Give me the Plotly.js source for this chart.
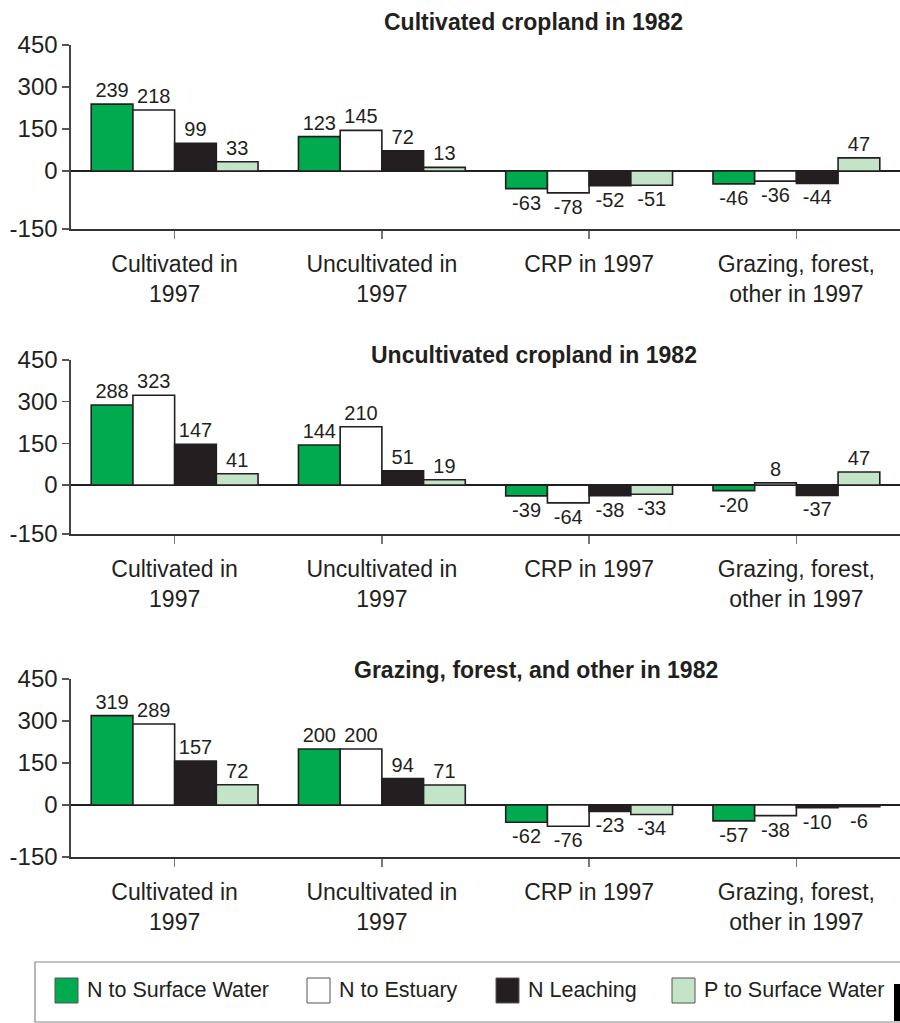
<!DOCTYPE html>
<html>
<head>
<meta charset="utf-8">
<script src="https://cdn.plot.ly/plotly-3.0.1.min.js"></script>
<style>html,body{margin:0;padding:0;background:#fff;}#chart{width:900px;height:1023px;}</style>
</head>
<body>
<div id="chart"></div>
<script>
// ---- data ----
const categories = ['Cultivated in<br>1997', 'Uncultivated in<br>1997', 'CRP in 1997', 'Grazing, forest,<br>other in 1997'];
const seriesNames = ['N to Surface Water', 'N to Estuary', 'N Leaching', 'P to Surface Water'];
const panelTitles = ['Cultivated cropland in 1982', 'Uncultivated cropland in 1982', 'Grazing, forest, and other in 1982'];
const yTickLabels = ['-150', '0', '150', '300', '450'];

// Panel 1: Cultivated cropland in 1982
const p1_nSurface = [239, 123, -63, -46];
const p1_nEstuary = [218, 145, -78, -36];
const p1_nLeach   = [99, 72, -52, -44];
const p1_pSurface = [33, 13, -51, 47];
// Panel 2: Uncultivated cropland in 1982
const p2_nSurface = [288, 144, -39, -20];
const p2_nEstuary = [323, 210, -64, 8];
const p2_nLeach   = [147, 51, -38, -37];
const p2_pSurface = [41, 19, -33, 47];
// Panel 3: Grazing, forest, and other in 1982
const p3_nSurface = [319, 200, -62, -57];
const p3_nEstuary = [289, 200, -76, -38];
const p3_nLeach   = [157, 94, -23, -10];
const p3_pSurface = [72, 71, -34, -6];

// ---- styling ----
const colors = ['#00ab4f', '#ffffff', '#231f20', '#c3e4c6'];
const ink = '#231f20';
const FONT = 'Liberation Sans, Arial, Helvetica, sans-serif';
const panels = [
  [p1_nSurface, p1_nEstuary, p1_nLeach, p1_pSurface],
  [p2_nSurface, p2_nEstuary, p2_nLeach, p2_pSurface],
  [p3_nSurface, p3_nEstuary, p3_nLeach, p3_pSurface]
];
const H = 1023, W = 900;
// pixel frames of each panel (top of 450, bottom of axis) and the bottom value shown
const frames = [{top: 45, bot: 229, min: -207}, {top: 360, bot: 534, min: -176}, {top: 679, bot: 857, min: -186}];
const titleY = [22, 355, 670];
const titleX = [533, 534, 536];

const traces = [];
panels.forEach((series, p) => {
  series.forEach((vals, s) => {
    traces.push({
      type: 'bar',
      x: categories,
      y: vals,
      name: seriesNames[s],
      xaxis: p === 0 ? 'x' : 'x' + (p + 1),
      yaxis: p === 0 ? 'y' : 'y' + (p + 1),
      marker: {color: colors[s], line: {color: ink, width: 1.6}},
      text: vals.map(String),
      textposition: 'outside',
      textfont: {family: FONT, size: 20, color: ink},
      constraintext: 'none',
      cliponaxis: false,
      showlegend: false,
      hoverinfo: 'skip'
    });
  });
});

const layout = {
  width: W, height: H,
  margin: {l: 0, r: 0, t: 0, b: 0},
  paper_bgcolor: '#fff', plot_bgcolor: '#fff',
  barmode: 'group', bargap: 0.195, bargroupgap: 0,
  font: {family: FONT, color: ink},
  showlegend: false,
  annotations: [],
  shapes: []
};

frames.forEach((f, p) => {
  const xs = p === 0 ? 'xaxis' : 'xaxis' + (p + 1);
  const ys = p === 0 ? 'yaxis' : 'yaxis' + (p + 1);
  const xa = p === 0 ? 'y' : 'y' + (p + 1);
  const ya = p === 0 ? 'x' : 'x' + (p + 1);
  layout[xs] = {
    domain: [71 / W, 1], anchor: xa, type: 'category',
    showline: true, linecolor: '#333', linewidth: 2,
    ticks: 'outside', ticklen: 8, tickcolor: '#777', tickwidth: 1.5,
    tickfont: {family: FONT, size: 23, color: ink},
    ticklabelstandoff: 5,
    showgrid: false, zeroline: false, fixedrange: true
  };
  layout[ys] = {
    domain: [1 - f.bot / H, 1 - f.top / H], anchor: ya,
    range: [f.min, 450],
    tickvals: [f.min, 0, 150, 300, 450], ticktext: yTickLabels,
    showline: true, linecolor: '#444', linewidth: 1.6,
    ticks: 'outside', ticklen: 7, tickcolor: '#555', tickwidth: 1.5,
    tickfont: {family: FONT, size: 24, color: ink},
    showgrid: false, zeroline: true, zerolinecolor: ink, zerolinewidth: 2.2,
    fixedrange: true
  };
  layout.annotations.push({
    xref: 'paper', yref: 'paper', x: titleX[p] / W, y: 1 - titleY[p] / H,
    xanchor: 'center', yanchor: 'middle', showarrow: false,
    text: '<b>' + panelTitles[p] + '</b>',
    font: {family: FONT, size: 23, color: ink}
  });
});

// legend box (drawn as shapes + text)
layout.shapes.push({type: 'rect', xref: 'paper', yref: 'paper',
  x0: 35 / W, x1: 1.02, y0: 1 - 1022 / H, y1: 1 - 962 / H,
  line: {color: '#888', width: 1.2}, fillcolor: 'rgba(0,0,0,0)'});
layout.shapes.push({type: 'rect', xref: 'paper', yref: 'paper',
  x0: 894 / W, x1: 1, y0: 1 - 1021 / H, y1: 1 - 984 / H,
  line: {width: 0}, fillcolor: '#000'});
const legSwatchX = [55, 307, 496, 672];
seriesNames.forEach((n, i) => {
  layout.shapes.push({type: 'rect', xref: 'paper', yref: 'paper',
    x0: legSwatchX[i] / W, x1: (legSwatchX[i] + 23) / W,
    y0: 1 - 1003 / H, y1: 1 - 978 / H,
    line: {color: '#555', width: 1}, fillcolor: colors[i]});
  layout.annotations.push({xref: 'paper', yref: 'paper',
    x: (legSwatchX[i] + 30) / W, y: 1 - 990 / H, xanchor: 'left', yanchor: 'middle',
    showarrow: false, text: n, font: {family: FONT, size: 21.5, color: ink}});
});

Plotly.newPlot('chart', traces, layout, {displayModeBar: false, staticPlot: true});
</script>
</body>
</html>
